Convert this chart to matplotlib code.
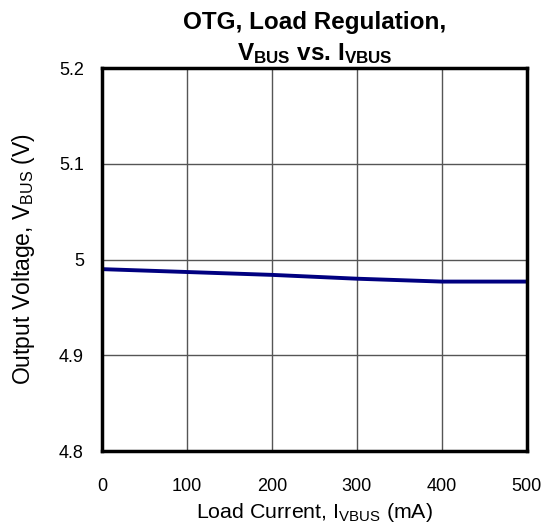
import matplotlib
matplotlib.use("Agg")
import matplotlib.pyplot as plt

plt.rcParams['font.family'] = ['Liberation Sans', 'DejaVu Sans']
plt.rcParams['mathtext.fontset'] = 'custom'
plt.rcParams['mathtext.rm'] = 'Liberation Sans'
plt.rcParams['mathtext.it'] = 'Liberation Sans'
plt.rcParams['mathtext.bf'] = 'Liberation Sans:bold'

current_ma = [0, 100, 200, 300, 400, 500]
vbus_v = [4.990, 4.987, 4.984, 4.980, 4.977, 4.977]
x_ticks = [0, 100, 200, 300, 400, 500]
y_ticks = [4.8, 4.9, 5.0, 5.1, 5.2]
y_tick_labels = ['4.8', '4.9', '5', '5.1', '5.2']

fig = plt.figure(figsize=(5.41, 5.28), dpi=100)
ax = fig.add_axes([0.1885, 0.1458, 0.7855, 0.7252])

ax.plot(current_ma, vbus_v, color='#000080', linewidth=2.8, solid_capstyle='butt', zorder=3)

ax.set_xlim(0, 500)
ax.set_ylim(4.8, 5.2)
ax.set_xticks(x_ticks)
ax.set_yticks(y_ticks)
ax.set_yticklabels(y_tick_labels)
ax.grid(True, color='#555555', linewidth=1.0)
ax.tick_params(axis='both', length=0, labelsize=13)
ax.tick_params(axis='x', pad=19.5)
ax.tick_params(axis='y', pad=13)
for s in ax.spines.values():
    s.set_linewidth(2.5)
    s.set_color('black')
    s.set_zorder(4)

ax.set_xlabel(r'Load Current, I$\mathregular{_{VBUS}}$ (mA)', fontsize=15.4, labelpad=4)
ax.set_ylabel(r'Output Voltage, V$\mathregular{_{BUS}}$ (V)', fontsize=16.5, labelpad=16)
ax.set_title('OTG, Load Regulation,\n' + r'V$\mathbf{_{BUS}}$ vs. I$\mathbf{_{VBUS}}$',
             fontsize=17.5, fontweight='bold', pad=6, linespacing=1.35)

fig.savefig('out.png', dpi=100)
